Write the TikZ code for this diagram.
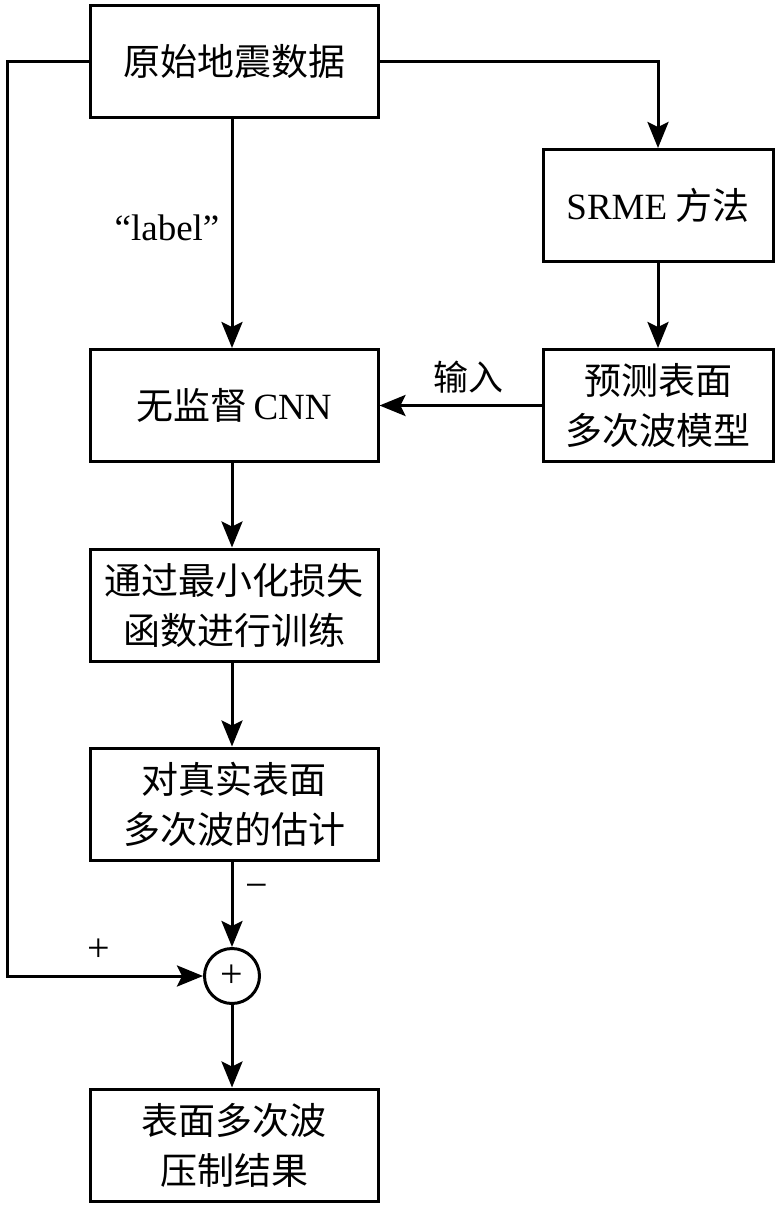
\documentclass[tikz,border=0pt]{standalone}
\usepackage{fontspec}
\setmainfont{Liberation Serif}
\newfontfamily\cjk{Noto Sans CJK SC}
\usetikzlibrary{arrows.meta}
\begin{document}
\begin{tikzpicture}[x=1pt,y=-1pt,
  line width=3pt,
  box/.style={draw,line width=3pt,align=center,inner sep=0pt,
    font=\fontsize{37}{50}\selectfont\cjk},
  lbox/.style={box,minimum width=288pt,minimum height=112pt},
  rbox/.style={box,minimum width=230pt,minimum height=112pt},
  arr/.style={-{Stealth[length=26pt,width=21pt,inset=5pt]}},
  lab/.style={font=\fontsize{37}{40}\selectfont},
  ]
\useasboundingbox (0,0) rectangle (779,1208);
\node[lbox] (src) at (234,61.5) {原始地震数据};
\node[rbox] (srme) at (658,205.5) {{\rmfamily SRME} 方法};
\node[rbox] (pred) at (658,405.5) {预测表面\\多次波模型};
\node[lbox] (cnn) at (234,405.5) {无监督{\rmfamily\,CNN}};
\node[lbox] (train) at (234,605) {通过最小化损失\\函数进行训练};
\node[lbox] (est) at (234,804) {对真实表面\\多次波的估计};
\node[draw,circle,line width=3pt,minimum size=55pt,inner sep=0pt,font=\fontsize{40}{40}\selectfont] (sum) at (232,976) {+};
\node[lbox] (res) at (234,1145) {表面多次波\\压制结果};
\coordinate (lc) at (7,61.5);
\draw[arr] (src.east) -| (srme.north);
\draw[arr] (srme.south) -- (pred.north);
\draw[arr] (pred.west) -- (cnn.east);
\draw[arr] (src.south -| sum.north) -- (cnn.north -| sum.north);
\draw[arr] (cnn.south -| sum.north) -- (train.north -| sum.north);
\draw[arr] (train.south -| sum.north) -- (est.north -| sum.north);
\draw[arr] (est.south -| sum.north) -- (sum.north);
\draw[arr] (sum.south) -- (res.north -| sum.south);
\draw[arr] (src.west) -- (lc) |- (sum.west);
\node[lab] (lbl) at (167,228) {“label”};
\node[lab,font=\fontsize{35}{40}\selectfont\cjk] (inp) at (468,377) {输入};
\node[lab,font=\fontsize{40}{40}\selectfont] (minus) at (257,891) {−};
\node[lab,font=\fontsize{40}{40}\selectfont] (plus) at (99,950) {+};
\end{tikzpicture}
\end{document}
